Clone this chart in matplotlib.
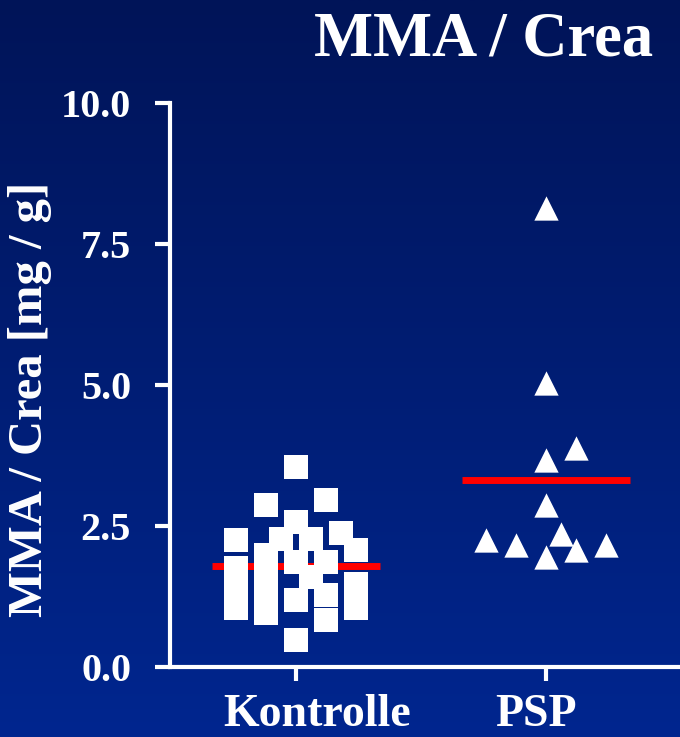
import numpy as np
import matplotlib.pyplot as plt
from matplotlib.colors import LinearSegmentedColormap
from matplotlib.transforms import blended_transform_factory

plt.rcParams['font.family'] = ['Liberation Serif', 'DejaVu Serif']
plt.rcParams['font.weight'] = 'bold'

groups = ['Kontrolle', 'PSP']

# Kontrolle: values with horizontal jitter offsets
kontrolle = [3.55, 2.87, 2.96, 2.26, 2.57, 2.27, 2.27, 2.37, 2.07, 1.99,
             1.86, 1.86, 1.59, 1.76, 1.40, 1.05, 1.63, 1.28, 0.96, 1.19,
             1.28, 0.83, 1.47, 1.05, 0.48]
kontrolle_jitter = [0, -0.12, 0.12, -0.24, 0, -0.06, 0.06, 0.18, 0.24, -0.12,
                    0, 0.12, 0.06, -0.24, -0.24, -0.24, -0.12, -0.12, -0.12, 0,
                    0.12, 0.12, 0.24, 0.24, 0]

psp = [8.14, 5.04, 3.88, 3.67, 2.87, 2.25, 2.16, 2.36, 2.07, 1.95, 2.16]
psp_jitter = [0, 0, 0.12, 0, 0, -0.24, -0.12, 0.06, 0.12, 0, 0.24]

yticks = [0.0, 2.5, 5.0, 7.5, 10.0]

fig = plt.figure(figsize=(6.8, 7.37), dpi=100)

# gradient background
bg = fig.add_axes([0, 0, 1, 1], zorder=-1)
cmap = LinearSegmentedColormap.from_list('bg', ['#001458', '#00268F'])
bg.imshow(np.linspace(0, 1, 256).reshape(-1, 1), cmap=cmap, aspect='auto',
          extent=[0, 1, 0, 1])
bg.axis('off')

ax = fig.add_axes([0.25, 0.095, 0.75, 0.7652])
ax.set_facecolor('none')

x1 = 1 + np.array(kontrolle_jitter)
x2 = 2 + np.array(psp_jitter)
ax.scatter(x1, kontrolle, marker='s', s=17.5**2, color='white', linewidths=0,
           clip_on=False, zorder=3)
ax.scatter(x2, psp, marker='^', s=17.5**2, color='white', linewidths=0,
           clip_on=False, zorder=3)

# mean lines (behind the markers)
for xc, vals in [(1, kontrolle), (2, psp)]:
    ax.plot([xc - 0.336, xc + 0.336], [np.mean(vals)] * 2, color='#FF0000',
            lw=5, solid_capstyle='butt', zorder=2)

ax.set_xlim(0.496, 2.536)
ax.set_ylim(0, 10)
ax.set_xticks([1, 2])
ax.set_xticklabels([])
ax.set_yticks(yticks)
ax.set_yticklabels(['%.1f' % t for t in yticks], fontsize=29, color='white')

# group labels, a little off-centre like the original
trans = blended_transform_factory(ax.transData, fig.transFigure)
for xc, name, dx in zip([1, 2], groups, [0.084, -0.04]):
    ax.text(xc + dx, 1 - 726 / 737, name, transform=trans, ha='center',
            va='baseline', fontsize=33, color='white', fontweight='bold')

for s in ['top', 'right']:
    ax.spines[s].set_visible(False)
for s in ['left', 'bottom']:
    ax.spines[s].set_color('white')
    ax.spines[s].set_linewidth(3)

ax.tick_params(axis='y', length=11, width=3, color='white', pad=17)
ax.tick_params(axis='x', length=10, width=3, color='white')

fig.text(42 / 680, 1 - 399 / 737, 'MMA / Crea [mg / g]', rotation=90,
         rotation_mode='anchor', ha='center', va='baseline', fontsize=35,
         color='white', fontweight='bold')
fig.text(653 / 680, 1 - 55 / 737, 'MMA / Crea', ha='right', va='baseline',
         fontsize=45, color='white', fontweight='bold')

fig.savefig('out.png', dpi=100)
